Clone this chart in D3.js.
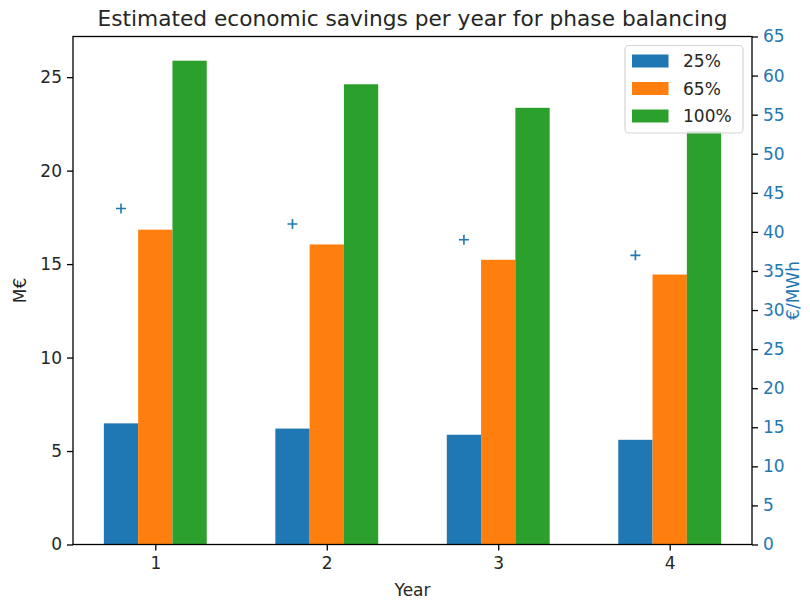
<!DOCTYPE html>
<html>
<head>
<meta charset="utf-8">
<script src="https://cdn.jsdelivr.net/npm/d3@7"></script>
<style>
  html, body { margin: 0; padding: 0; background: #fff; }
  svg { display: block; font-family: "DejaVu Sans", sans-serif; }
</style>
</head>
<body>
<svg id="chart" width="810" height="601"></svg>
<script>
// Savings per year (M€) for three balancing levels, and unit savings (€/MWh)
const years = [1, 2, 3, 4];
const seriesNames = ["25%", "65%", "100%"];
const savings25 = [6.48, 6.20, 5.87, 5.60];
const savings65 = [16.84, 16.05, 15.23, 14.44];
const savings100 = [25.88, 24.62, 23.36, 22.10];
const unitSavings = [43, 41, 39, 37];
const leftTicks = [0, 5, 10, 15, 20, 25];
const rightTicks = [0, 5, 10, 15, 20, 25, 30, 35, 40, 45, 50, 55, 60, 65];

const colors = ["#1f77b4", "#ff7f0e", "#2ca02c"];
const seriesValues = [savings25, savings65, savings100];
const barOffsets = [-0.2, 0, 0.2];
const barWidth = 0.2;

const svg = d3.select("#chart");
const m = { left: 73, right: 752, top: 36.5, bottom: 544.5 };

const x = d3.scaleLinear().domain([0.52, 4.48]).range([m.left, m.right]);
const yL = d3.scaleLinear().domain([0, d3.max(savings100) * 1.05]).range([m.bottom, m.top]);
const yR = d3.scaleLinear().domain([0, 65]).range([m.bottom, m.top]);

// Bars
seriesValues.forEach((vals, si) => {
  svg.append("g").selectAll("rect")
    .data(years.map((yr, i) => ({ yr, v: vals[i] })))
    .join("rect")
    .attr("x", d => x(d.yr + barOffsets[si] - barWidth / 2))
    .attr("width", d => x(d.yr + barOffsets[si] + barWidth / 2) - x(d.yr + barOffsets[si] - barWidth / 2))
    .attr("y", d => yL(d.v))
    .attr("height", d => yL(0) - yL(d.v))
    .attr("fill", colors[si]);
});

// €/MWh markers on the secondary axis
svg.append("g").selectAll("path")
  .data(years.map((yr, i) => ({ yr, v: unitSavings[i] })))
  .join("path")
  .attr("d", d => {
    const cx = x(d.yr - 0.2), cy = yR(d.v), h = 5;
    return `M${cx - h},${cy}H${cx + h}M${cx},${cy - h}V${cy + h}`;
  })
  .attr("stroke", "#1f77b4")
  .attr("stroke-width", 1.6)
  .attr("fill", "none");

// Axes
const fs = "17px";
const gx = svg.append("g").attr("transform", `translate(0,${m.bottom})`)
  .call(d3.axisBottom(x).tickValues(years).tickFormat(d3.format("d")).tickSizeOuter(0).tickSize(6).tickPadding(6));
const gl = svg.append("g").attr("transform", `translate(${m.left},0)`)
  .call(d3.axisLeft(yL).tickValues(leftTicks).tickSizeOuter(0).tickSize(6).tickPadding(5));
const gr = svg.append("g").attr("transform", `translate(${m.right},0)`)
  .call(d3.axisRight(yR).tickValues(rightTicks).tickSizeOuter(0).tickSize(6).tickPadding(5));

[gx, gl, gr].forEach(g => {
  g.select(".domain").remove();
  g.selectAll("line").attr("stroke", "#000").attr("stroke-width", 1.3);
  g.selectAll("text").attr("font-size", fs).attr("fill", "#262626")
    .attr("font-family", "DejaVu Sans, sans-serif");
});
gr.selectAll("text").attr("fill", "#1f77b4");

// Frame
svg.append("rect")
  .attr("x", m.left).attr("y", m.top)
  .attr("width", m.right - m.left).attr("height", m.bottom - m.top)
  .attr("fill", "none").attr("stroke", "#000").attr("stroke-width", 1.3);

// Titles and axis labels
svg.append("text").attr("x", (m.left + m.right) / 2).attr("y", 26)
  .attr("text-anchor", "middle").attr("font-size", "21.7px").attr("fill", "#262626")
  .text("Estimated economic savings per year for phase balancing");
svg.append("text").attr("x", (m.left + m.right) / 2).attr("y", 596)
  .attr("text-anchor", "middle").attr("font-size", fs).attr("fill", "#262626")
  .text("Year");
svg.append("text").attr("transform", `translate(26,${(m.top + m.bottom) / 2}) rotate(-90)`)
  .attr("text-anchor", "middle").attr("font-size", fs).attr("fill", "#262626")
  .text("M€");
svg.append("text").attr("transform", `translate(799,${(m.top + m.bottom) / 2}) rotate(-90)`)
  .attr("text-anchor", "middle").attr("font-size", fs).attr("fill", "#1f77b4")
  .text("€/MWh");

// Legend
const lg = svg.append("g");
lg.append("rect").attr("x", 625).attr("y", 45.5).attr("width", 118).attr("height", 87.5)
  .attr("rx", 4).attr("fill", "rgba(255,255,255,0.8)").attr("stroke", "#d6d6d6").attr("stroke-width", 1.2);
seriesNames.forEach((name, i) => {
  const cy = 61 + i * 27.5;
  lg.append("rect").attr("x", 632).attr("y", cy - 6.5).attr("width", 36.5).attr("height", 13)
    .attr("fill", colors[i]);
  lg.append("text").attr("x", 683).attr("y", cy + 6).attr("font-size", fs).attr("fill", "#262626")
    .text(name);
});
</script>
</body>
</html>
